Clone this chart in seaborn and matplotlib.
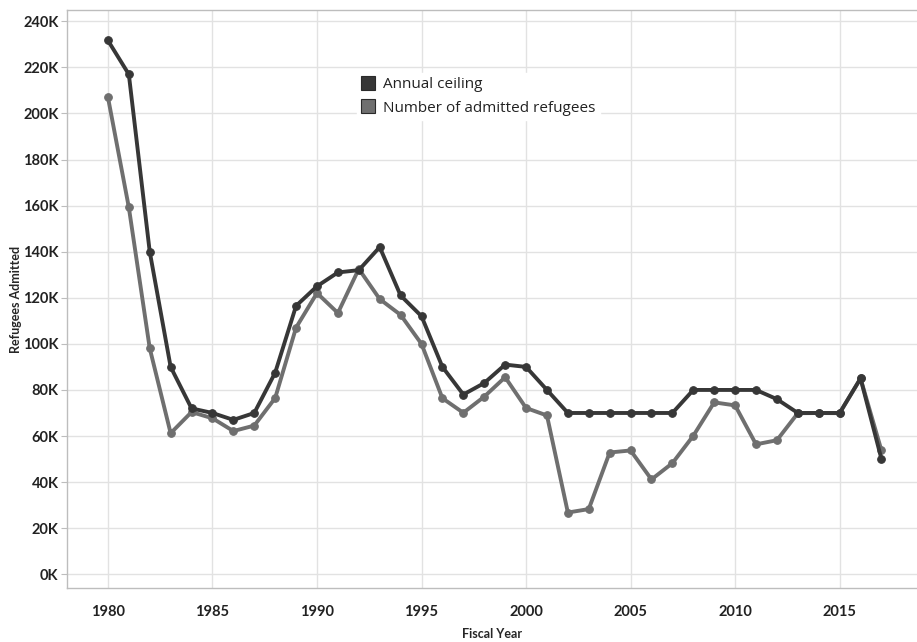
import matplotlib
matplotlib.use("Agg")
import matplotlib.pyplot as plt
from matplotlib.ticker import FuncFormatter, MultipleLocator
from matplotlib.lines import Line2D
import seaborn as sns
import pandas as pd

years = list(range(1980, 2018))

annual_ceiling = [231700, 217000, 140000, 90000, 72000, 70000, 67000, 70000,
                  87500, 116500, 125000, 131000, 132000, 142000, 121000, 112000,
                  90000, 78000, 83000, 91000, 90000, 80000, 70000, 70000,
                  70000, 70000, 70000, 70000, 80000, 80000, 80000, 80000,
                  76000, 70000, 70000, 70000, 85000, 50000]

admitted = [207116, 159252, 98096, 61218, 70393, 67704, 62146, 64528,
            76483, 107070, 122066, 113389, 132531, 119448, 112573, 99974,
            76403, 70085, 77080, 85525, 72165, 68920, 26785, 28286,
            52840, 53738, 41150, 48218, 60107, 74602, 73293, 56384,
            58179, 69909, 69975, 69920, 84989, 53716]

series_names = ["Annual ceiling", "Number of admitted refugees"]
series_colors = ["#373737", "#6f6f6f"]

df = pd.DataFrame({
    "Fiscal Year": years * 2,
    "Refugees": annual_ceiling + admitted,
    "Series": [series_names[0]] * len(years) + [series_names[1]] * len(years),
})

sns.set_style("white")
plt.rcParams["font.family"] = ["Open Sans", "DejaVu Sans"]

fig = plt.figure(figsize=(9.17, 6.42), dpi=100)
ax = fig.add_axes([0.073, 0.084, 0.927, 0.900])

# gray line first, dark ceiling line on top
for name, color, z in [(series_names[1], series_colors[1], 3), (series_names[0], series_colors[0], 4)]:
    sns.lineplot(data=df[df["Series"] == name], x="Fiscal Year", y="Refugees",
                 color=color, linewidth=2.8, marker="o", markersize=5.5,
                 markeredgecolor=color, ax=ax, zorder=z, legend=False)

ax.set_xlim(1978.04, 2018.7)
ax.set_ylim(-6000, 244800)
ax.xaxis.set_major_locator(MultipleLocator(5))
ax.yaxis.set_major_locator(MultipleLocator(20000))
ax.yaxis.set_major_formatter(FuncFormatter(lambda v, p: f"{int(v / 1000)}K"))

ax.grid(True, color="#e2e2e2", linewidth=1.0)
ax.set_axisbelow(True)
for side in ["left", "bottom", "top"]:
    ax.spines[side].set_color("#bdbdbd")
    ax.spines[side].set_linewidth(1.0)
ax.spines["right"].set_visible(False)

tick_font = ["Lato", "DejaVu Sans"]
ax.tick_params(axis="y", length=4, width=0.8, color="#bdbdbd", pad=2, left=True)
ax.tick_params(axis="x", length=0, pad=12)
for lab in ax.get_xticklabels() + ax.get_yticklabels():
    lab.set_fontfamily(tick_font)
    lab.set_fontweight("bold")
    lab.set_fontsize(10.5)
    lab.set_color("#222222")

ax.set_xlabel("Fiscal Year", fontsize=9, fontweight="bold", family=tick_font, labelpad=7)
ax.set_ylabel("Refugees Admitted", fontsize=9, fontweight="bold", family=tick_font, labelpad=1)

handles = [Line2D([], [], linestyle="none", marker="s", markersize=10,
                  markerfacecolor=c, markeredgecolor="#2a2a2a", markeredgewidth=0.8)
           for c in series_colors]
leg = ax.legend(handles, series_names, loc="upper left", bbox_to_anchor=(0.332, 0.905),
                frameon=True, fancybox=False, framealpha=1, edgecolor="white",
                fontsize=11, handlelength=0.9, handletextpad=0.5, labelspacing=0.55,
                borderpad=0.3)
leg.set_zorder(10)
for t in leg.get_texts():
    t.set_color("#222222")

fig.savefig("out.png", dpi=100)
